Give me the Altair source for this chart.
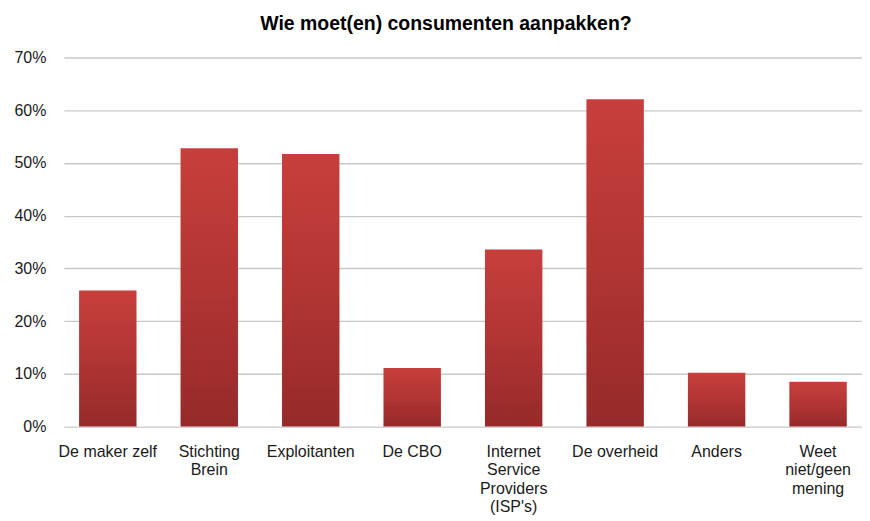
import altair as alt
import pandas as pd

categories = [
    "De maker zelf",
    "Stichting|Brein",
    "Exploitanten",
    "De CBO",
    "Internet|Service|Providers|(ISP's)",
    "De overheid",
    "Anders",
    "Weet|niet/geen|mening",
]
values = [0.258, 0.528, 0.517, 0.111, 0.336, 0.621, 0.102, 0.085]

df = pd.DataFrame({"cat": categories, "val": values})

gradient = alt.LinearGradient(
    gradient="linear",
    x1=0, y1=0, x2=0, y2=1,
    stops=[
        alt.GradientStop(color="#c73f3c", offset=0),
        alt.GradientStop(color="#b13533", offset=0.5),
        alt.GradientStop(color="#962a2a", offset=1),
    ],
)

chart = (
    alt.Chart(df)
    .mark_bar(color=gradient)
    .encode(
        x=alt.X(
            "cat:N",
            sort=categories,
            scale=alt.Scale(paddingInner=0.434, paddingOuter=0.15),
            axis=alt.Axis(
                title=None,
                labelAngle=0,
                labelExpr="split(datum.value, '|')",
                labelFont="Liberation Sans",
                labelFontSize=16,
                labelColor="#1a1a1a",
                labelLineHeight=18.3,
                labelPadding=17,
                labelBaseline="top",
                ticks=False,
                domain=False,
                grid=False,
            ),
        ),
        y=alt.Y(
            "val:Q",
            scale=alt.Scale(domain=[0, 0.7]),
            axis=alt.Axis(
                title=None,
                format=".0%",
                values=[0, 0.1, 0.2, 0.3, 0.4, 0.5, 0.6, 0.7],
                labelFont="Liberation Sans",
                labelFontSize=16,
                labelColor="#1a1a1a",
                labelPadding=18,
                ticks=False,
                domain=False,
                gridColor="#c8c8c8",
                gridWidth=1.3,
            ),
        ),
    )
    .properties(
        width=800,
        height=370,
        padding={"left": 5, "top": 5, "right": 0, "bottom": 0},
        title=alt.Title(
            "Wie moet(en) consumenten aanpakken?",
            font="Liberation Sans",
            fontSize=19.5,
            fontWeight="bold",
            color="#000000",
            anchor="middle",
            offset=15,
            dx=-17,
        ),
    )
    .configure_view(stroke=None)
)

chart.save("out.html", embed_options={"renderer": "svg", "actions": False})
